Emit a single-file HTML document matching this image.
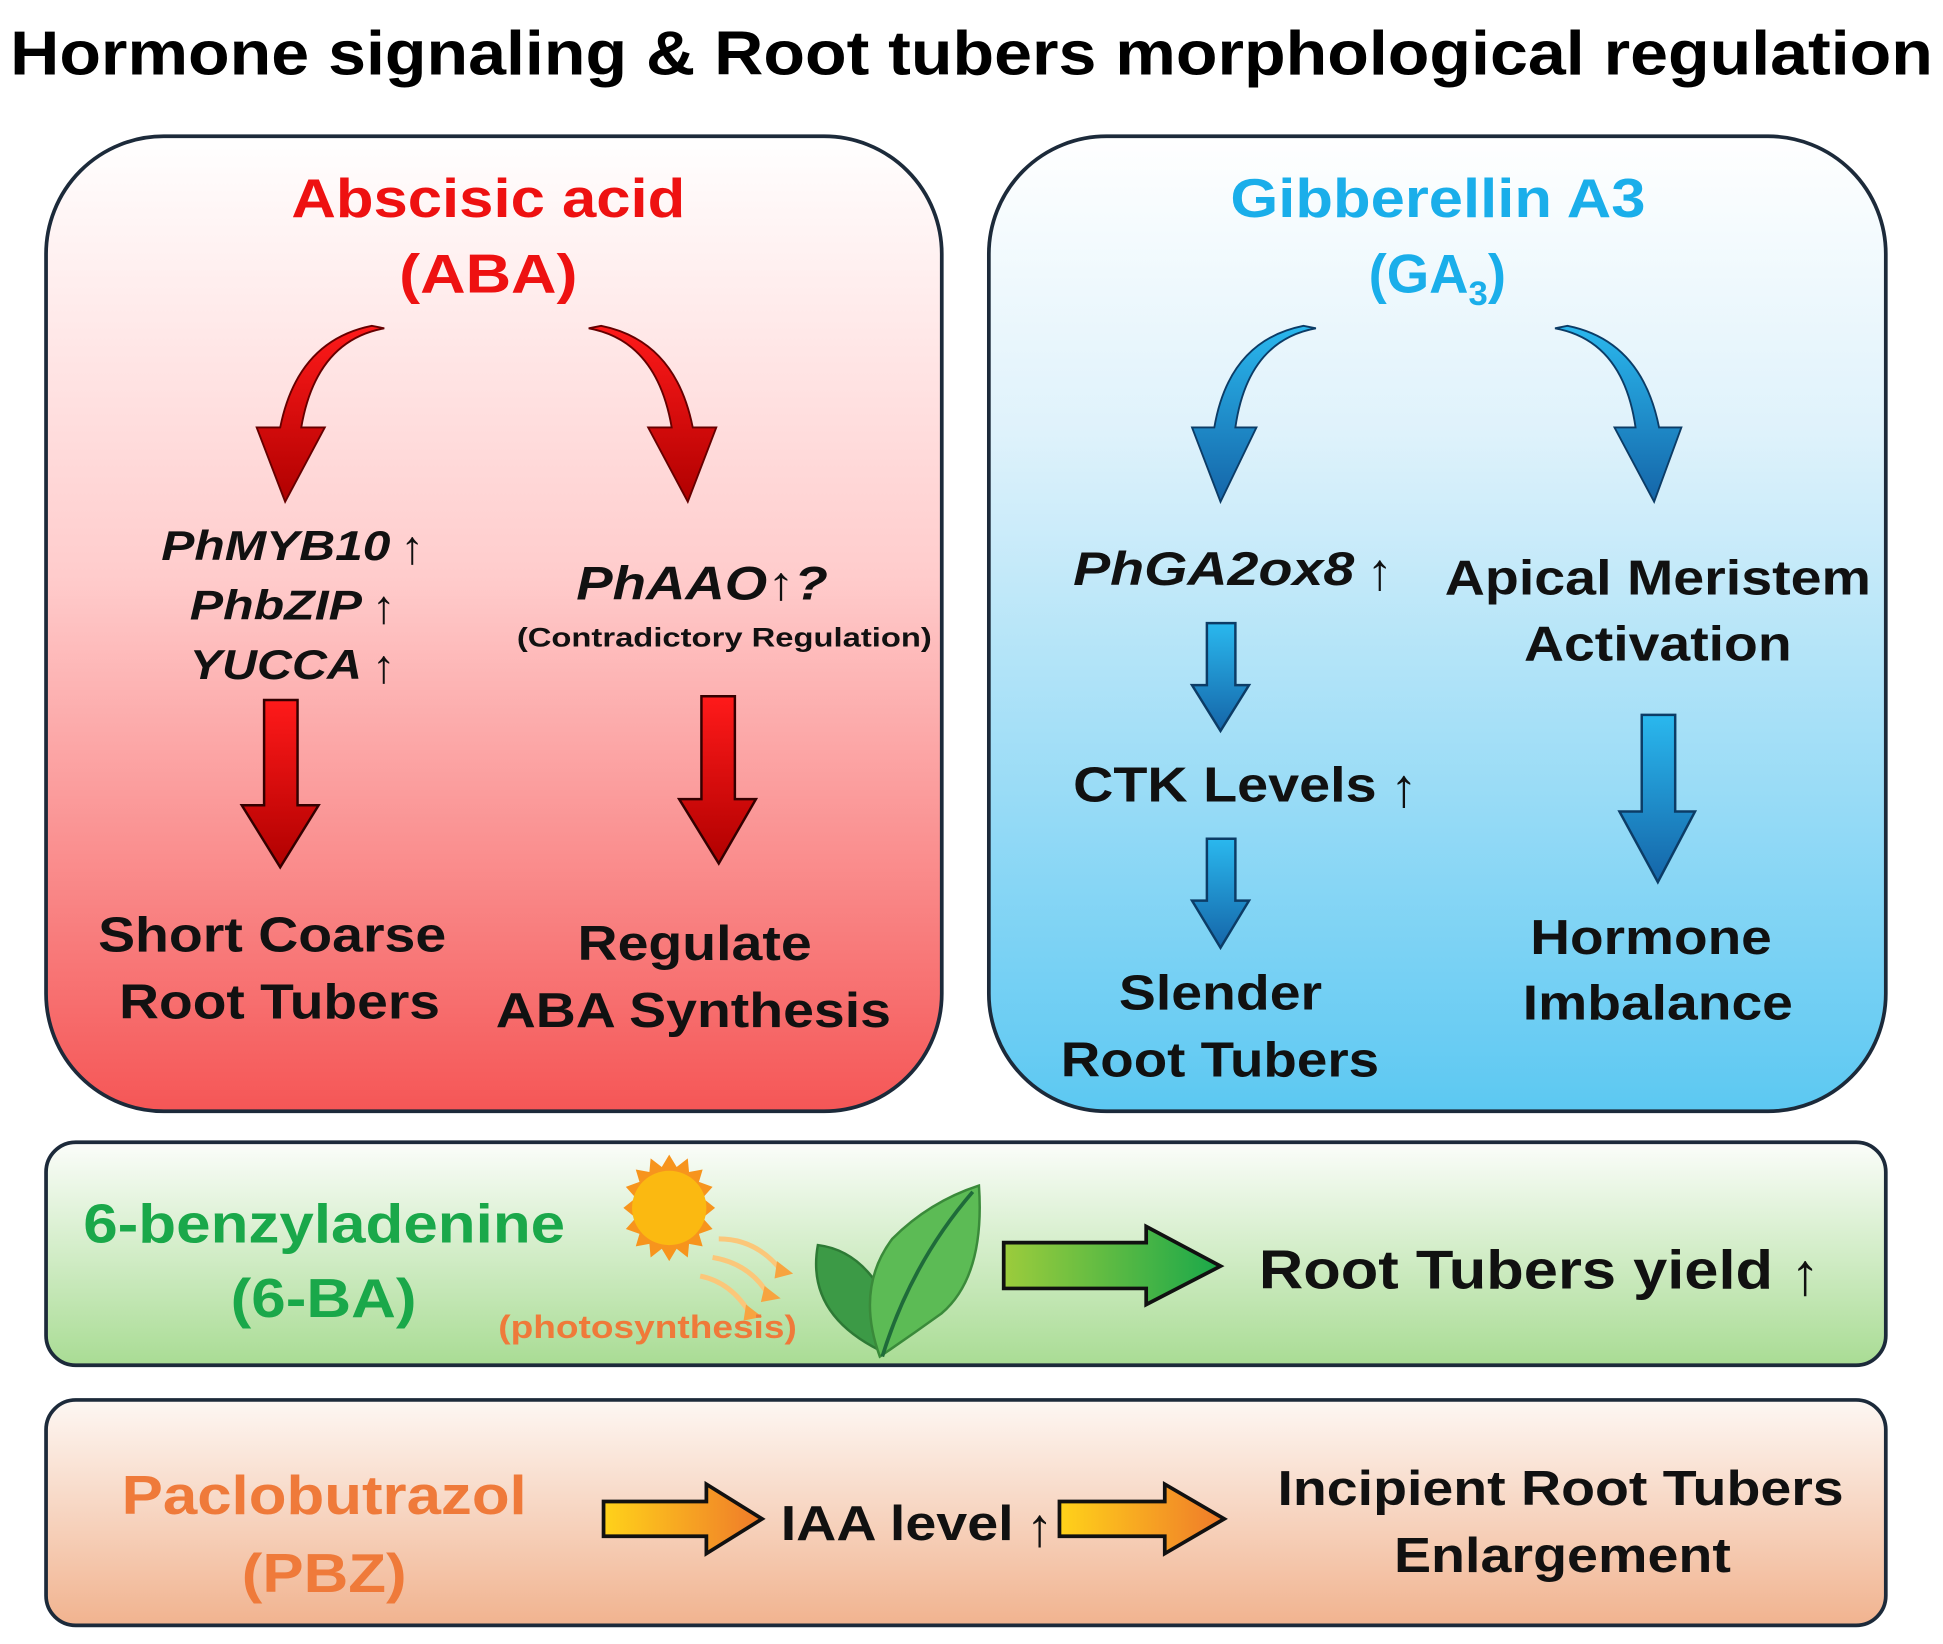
<!DOCTYPE html>
<html><head><meta charset="utf-8"><style>
html,body{margin:0;padding:0;background:#fff}
svg{display:block}
text{font-family:"Liberation Sans",Arial,sans-serif;font-weight:bold}
</style></head><body>
<svg width="1943" height="1644" viewBox="0 0 1568 1327" xmlns="http://www.w3.org/2000/svg">
<defs>
<linearGradient id="gr" x1="0" y1="0" x2="0" y2="1"><stop offset="0" stop-color="#fff"/><stop offset="0.45" stop-color="#fcc"/><stop offset="1" stop-color="#f55656"/></linearGradient>
<linearGradient id="gb" x1="0" y1="0" x2="0" y2="1"><stop offset="0" stop-color="#fff"/><stop offset="0.3" stop-color="#dff2fb"/><stop offset="1" stop-color="#5cc8f2"/></linearGradient>
<linearGradient id="gg" x1="0" y1="0" x2="0" y2="1"><stop offset="0" stop-color="#fbfdfa"/><stop offset="1" stop-color="#a9dc94"/></linearGradient>
<linearGradient id="go" x1="0" y1="0" x2="0" y2="1"><stop offset="0" stop-color="#fdf7f3"/><stop offset="1" stop-color="#f1b38f"/></linearGradient>
<linearGradient id="ar" x1="0" y1="0" x2="0" y2="1"><stop offset="0" stop-color="#ff1a1a"/><stop offset="1" stop-color="#b00000"/></linearGradient>
<linearGradient id="ab" x1="0" y1="0" x2="0" y2="1"><stop offset="0" stop-color="#2ab8ee"/><stop offset="1" stop-color="#1565a8"/></linearGradient>
<linearGradient id="ag" x1="0" y1="0" x2="1" y2="0"><stop offset="0" stop-color="#9ccc3c"/><stop offset="1" stop-color="#1aa84a"/></linearGradient>
<linearGradient id="ao" x1="0" y1="0" x2="1" y2="0"><stop offset="0" stop-color="#ffd21a"/><stop offset="1" stop-color="#ef7a2a"/></linearGradient>
</defs>
<text x="784" y="60" font-size="50" text-anchor="middle" fill="#000" textLength="1552" lengthAdjust="spacingAndGlyphs">Hormone signaling &amp; Root tubers morphological regulation</text>

<rect x="37" y="110" width="723" height="787" rx="95" fill="url(#gr)" stroke="#1c2a3a" stroke-width="3"/>
<rect x="798" y="110" width="724" height="787" rx="95" fill="url(#gb)" stroke="#1c2a3a" stroke-width="3"/>
<rect x="37" y="922" width="1485" height="180" rx="24" fill="url(#gg)" stroke="#1c2a3a" stroke-width="3"/>
<rect x="37" y="1130" width="1485" height="182" rx="24" fill="url(#go)" stroke="#1c2a3a" stroke-width="3"/>

<!-- ABA -->
<text x="394" y="175" font-size="44" text-anchor="middle" fill="#ee1111" textLength="318" lengthAdjust="spacingAndGlyphs">Abscisic acid</text>
<text x="394" y="236" font-size="44" text-anchor="middle" fill="#ee1111" textLength="144" lengthAdjust="spacingAndGlyphs">(ABA)</text>
<path d="M310 265 Q255 275 243 345 L262 345 L230 405 L207 345 L226 345 Q240 275 300 263 Z" fill="url(#ar)" stroke="#600" stroke-width="1.5"/>
<path d="M475 265 Q530 275 542 345 L523 345 L555 405 L578 345 L559 345 Q545 275 485 263 Z" fill="url(#ar)" stroke="#600" stroke-width="1.5"/>
<g font-size="34" font-style="italic" fill="#111">
<text x="130" y="452" textLength="185" lengthAdjust="spacingAndGlyphs">PhMYB10</text>
<text x="153" y="500" textLength="139" lengthAdjust="spacingAndGlyphs">PhbZIP</text>
<text x="153" y="548" textLength="139" lengthAdjust="spacingAndGlyphs">YUCCA</text></g>
<g font-size="38" font-weight="normal" fill="#111" style="font-weight:normal"><text x="323" y="455">↑</text><text x="300" y="503">↑</text><text x="300" y="551">↑</text></g>
<text x="465" y="484" font-size="38" font-style="italic" fill="#111" textLength="203" lengthAdjust="spacingAndGlyphs">PhAAO↑?</text>
<text x="417" y="522" font-size="22" fill="#111" textLength="335" lengthAdjust="spacingAndGlyphs">(Contradictory Regulation)</text>
<path d="M213 565 H240 V650 H257 L226 700 L195 650 H213 Z" fill="url(#ar)" stroke="#300" stroke-width="2"/>
<path d="M566 562 H593 V645 H610 L580 697 L548 645 H566 Z" fill="url(#ar)" stroke="#300" stroke-width="2"/>
<g font-size="40" fill="#111">
<text x="79" y="768" textLength="281" lengthAdjust="spacingAndGlyphs">Short Coarse</text>
<text x="96" y="822" textLength="259" lengthAdjust="spacingAndGlyphs">Root Tubers</text>
<text x="466" y="775" textLength="189" lengthAdjust="spacingAndGlyphs">Regulate</text>
<text x="400" y="829" textLength="319" lengthAdjust="spacingAndGlyphs">ABA Synthesis</text></g>

<!-- GA -->
<text x="993" y="175" font-size="44" fill="#1aaeea" textLength="335" lengthAdjust="spacingAndGlyphs">Gibberellin A3</text>
<text x="1160" y="236" font-size="44" text-anchor="middle" fill="#1aaeea">(GA<tspan font-size="28" dy="10">3</tspan><tspan dy="-10">)</tspan></text>
<path d="M1062 265 Q1007 275 997 345 L1014 345 L985 405 L962 345 L980 345 Q992 275 1052 263 Z" fill="url(#ab)" stroke="#0c3c66" stroke-width="1.5"/>
<path d="M1255 265 Q1310 275 1320 345 L1303 345 L1335 405 L1357 345 L1339 345 Q1325 275 1265 263 Z" fill="url(#ab)" stroke="#0c3c66" stroke-width="1.5"/>
<text x="866" y="472" font-size="38" font-style="italic" fill="#111" textLength="227" lengthAdjust="spacingAndGlyphs">PhGA2ox8</text>
<text x="1103" y="476" font-size="42" fill="#111" style="font-weight:normal">↑</text>
<text x="1166" y="480" font-size="40" fill="#111" textLength="344" lengthAdjust="spacingAndGlyphs">Apical Meristem</text>
<text x="1230" y="533" font-size="40" fill="#111" textLength="216" lengthAdjust="spacingAndGlyphs">Activation</text>
<path d="M974 503 H997 V553 H1008 L985 590 L962 553 H974 Z" fill="url(#ab)" stroke="#0c3c66" stroke-width="2"/>
<text x="866" y="647" font-size="40" fill="#111" textLength="245" lengthAdjust="spacingAndGlyphs">CTK Levels</text>
<text x="1122" y="651" font-size="44" fill="#111" style="font-weight:normal">↑</text>
<path d="M974 677 H997 V727 H1008 L985 765 L962 727 H974 Z" fill="url(#ab)" stroke="#0c3c66" stroke-width="2"/>
<path d="M1325 577 H1352 V655 H1368 L1338 712 L1307 655 H1325 Z" fill="url(#ab)" stroke="#0c3c66" stroke-width="2"/>
<g font-size="40" fill="#111">
<text x="903" y="815" textLength="164" lengthAdjust="spacingAndGlyphs">Slender</text>
<text x="856" y="869" textLength="257" lengthAdjust="spacingAndGlyphs">Root Tubers</text>
<text x="1235" y="770" textLength="195" lengthAdjust="spacingAndGlyphs">Hormone</text>
<text x="1229" y="823" textLength="218" lengthAdjust="spacingAndGlyphs">Imbalance</text></g>

<!-- 6-BA -->
<text x="67" y="1003" font-size="44" fill="#1aa84a" textLength="389" lengthAdjust="spacingAndGlyphs">6-benzyladenine</text>
<text x="186" y="1063" font-size="44" fill="#1aa84a" textLength="150" lengthAdjust="spacingAndGlyphs">(6-BA)</text>
<g transform="translate(540,975)">
<polygon points="0,-43 6,-33 15,-40 16,-29 27,-31 24,-21 35,-17 27,-8 37,0 27,8 35,17 24,21 27,31 16,29 15,40 6,33 0,43 -6,33 -15,40 -16,29 -27,31 -24,21 -35,17 -27,8 -37,0 -27,-8 -35,-17 -24,-21 -27,-31 -16,-29 -15,-40 -6,-33" fill="#f7941d"/>
<circle r="30" fill="#fbb911"/></g>
<g fill="none" stroke="#fbc77a" stroke-width="4">
<path d="M580 1000 Q610 1000 630 1025"/><path d="M575 1015 Q605 1020 620 1045"/><path d="M565 1030 Q590 1035 605 1060"/></g>
<g fill="#f7a440"><polygon points="627,1018 640,1028 625,1032"/><polygon points="617,1038 630,1048 614,1051"/><polygon points="602,1053 615,1063 600,1066"/></g>
<path d="M710 1090 Q650 1060 660 1005 Q700 1010 720 1060 Z" fill="#3c9a46" stroke="#2d7a35" stroke-width="2"/>
<path d="M710 1095 Q690 1040 720 1000 Q750 970 790 957 Q795 1030 760 1060 Q735 1078 710 1095 Z" fill="#5cbb55" stroke="#3a8a3a" stroke-width="2"/>
<path d="M712 1095 Q735 1020 785 962" stroke="#1f6b3a" stroke-width="3" fill="none"/>
<text x="402" y="1080" font-size="26" fill="#ef7a3a" textLength="241" lengthAdjust="spacingAndGlyphs">(photosynthesis)</text>
<path d="M810 1003 H925 V990 L985 1022 L925 1053 V1040 H810 Z" fill="url(#ag)" stroke="#111" stroke-width="3"/>
<text x="1016" y="1040" font-size="44" fill="#111" textLength="415" lengthAdjust="spacingAndGlyphs">Root Tubers yield</text>
<text x="1445" y="1045" font-size="48" fill="#111" style="font-weight:normal">↑</text>

<!-- PBZ -->
<text x="98" y="1222" font-size="44" fill="#ef7a3a" textLength="327" lengthAdjust="spacingAndGlyphs">Paclobutrazol</text>
<text x="195" y="1285" font-size="44" fill="#ef7a3a" textLength="133" lengthAdjust="spacingAndGlyphs">(PBZ)</text>
<path d="M487 1212 H570 V1198 L615 1226 L570 1254 V1240 H487 Z" fill="url(#ao)" stroke="#111" stroke-width="3"/>
<text x="630" y="1243" font-size="40" fill="#111" textLength="188" lengthAdjust="spacingAndGlyphs">IAA level</text>
<text x="828" y="1248" font-size="44" fill="#111" style="font-weight:normal">↑</text>
<path d="M855 1212 H940 V1198 L988 1226 L940 1254 V1240 H855 Z" fill="url(#ao)" stroke="#111" stroke-width="3"/>
<text x="1031" y="1215" font-size="40" fill="#111" textLength="457" lengthAdjust="spacingAndGlyphs">Incipient Root Tubers</text>
<text x="1125" y="1269" font-size="40" fill="#111" textLength="272" lengthAdjust="spacingAndGlyphs">Enlargement</text>
</svg>
</body></html>
